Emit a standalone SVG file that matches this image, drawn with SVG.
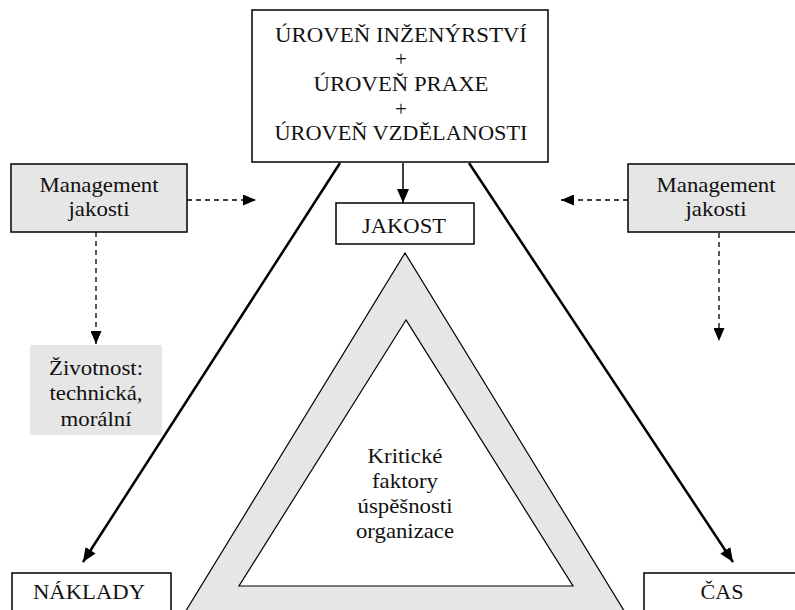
<svg xmlns="http://www.w3.org/2000/svg" width="795" height="610" viewBox="0 0 795 610">
  <defs>
    <marker id="solidHead" markerUnits="userSpaceOnUse" markerWidth="14" markerHeight="12" refX="14" refY="6" orient="auto">
      <path d="M0,0 L14,6 L0,12 Z" fill="#000"/>
    </marker>
    <marker id="dashHead" markerUnits="userSpaceOnUse" markerWidth="13" markerHeight="11" refX="13" refY="5.5" orient="auto">
      <path d="M0,0 L13,5.5 L0,11 Z" fill="#000"/>
    </marker>
    <style>
      .box { fill: #fff; stroke: #000; stroke-width: 1.5; }
      .grey { fill: #e6e6e6; stroke: #000; stroke-width: 1.5; }
      .note { fill: #e6e6e6; stroke: none; }
      text { font-family: 'Liberation Serif', 'Times New Roman', serif; font-size: 21px; fill: #111; text-anchor: middle; }
      .main { fill: none; stroke: #000; stroke-width: 2.5; }
      .thin { fill: none; stroke: #000; stroke-width: 1.5; }
      .dash { fill: none; stroke: #000; stroke-width: 1.3; stroke-dasharray: 5 4; }
      .tri { stroke: #000; stroke-width: 1.2; stroke-linejoin: miter; }
    </style>
  </defs>

  <rect width="795" height="610" fill="#fff"/>

  <!-- nested triangles: success factors -->
  <g id="triangle">
    <polygon class="tri" points="405,253 168,640 642,640" fill="#e6e6e6"/>
    <polygon class="tri" points="406,320 239,586 573,586" fill="#fff"/>
    <text x="405" y="463" textLength="75" lengthAdjust="spacingAndGlyphs">Kritické</text>
    <text x="405" y="488" textLength="66" lengthAdjust="spacingAndGlyphs">faktory</text>
    <text x="405" y="513" textLength="95" lengthAdjust="spacingAndGlyphs">úspěšnosti</text>
    <text x="405" y="538" textLength="98" lengthAdjust="spacingAndGlyphs">organizace</text>
  </g>

  <g id="connectors">
    <line class="thin" x1="403" y1="163" x2="403" y2="203" marker-end="url(#solidHead)"/>
    <line class="main" x1="340" y1="163" x2="83" y2="562" marker-end="url(#solidHead)"/>
    <line class="main" x1="469" y1="163" x2="733" y2="562" marker-end="url(#solidHead)"/>
    <line class="dash" x1="187" y1="200" x2="256" y2="200" marker-end="url(#dashHead)"/>
    <line class="dash" x1="96" y1="232" x2="96" y2="344" marker-end="url(#dashHead)"/>
    <line class="dash" x1="628" y1="200" x2="561" y2="200" marker-end="url(#dashHead)"/>
    <line class="dash" x1="719" y1="233" x2="719" y2="341" marker-end="url(#dashHead)"/>
  </g>

  <g id="levels">
    <rect class="box" x="252" y="10" width="296" height="152"/>
    <text x="401" y="42" textLength="252" lengthAdjust="spacingAndGlyphs">ÚROVEŇ INŽENÝRSTVÍ</text>
    <text x="401" y="66">+</text>
    <text x="401" y="91" textLength="175" lengthAdjust="spacingAndGlyphs">ÚROVEŇ PRAXE</text>
    <text x="401" y="116">+</text>
    <text x="401" y="140" textLength="253" lengthAdjust="spacingAndGlyphs">ÚROVEŇ VZDĚLANOSTI</text>
  </g>

  <g id="quality">
    <rect class="box" x="336" y="203" width="138" height="41"/>
    <text x="404" y="233" textLength="84" lengthAdjust="spacingAndGlyphs">JAKOST</text>
  </g>

  <g id="qm-left">
    <rect class="grey" x="11" y="164" width="176" height="68"/>
    <text x="99" y="192" textLength="119" lengthAdjust="spacingAndGlyphs">Management</text>
    <text x="99" y="216" textLength="61" lengthAdjust="spacingAndGlyphs">jakosti</text>
  </g>

  <g id="qm-right">
    <rect class="grey" x="628" y="164" width="176" height="68"/>
    <text x="716" y="192" textLength="119" lengthAdjust="spacingAndGlyphs">Management</text>
    <text x="716" y="216" textLength="61" lengthAdjust="spacingAndGlyphs">jakosti</text>
  </g>

  <g id="lifetime">
    <rect class="note" x="30" y="345" width="132" height="90"/>
    <text x="96" y="375" textLength="94" lengthAdjust="spacingAndGlyphs">Životnost:</text>
    <text x="96" y="400" textLength="93" lengthAdjust="spacingAndGlyphs">technická,</text>
    <text x="96" y="426" textLength="71" lengthAdjust="spacingAndGlyphs">morální</text>
  </g>

  <g id="costs">
    <rect class="box" x="12" y="573" width="159" height="60"/>
    <text x="89" y="599" textLength="112" lengthAdjust="spacingAndGlyphs">NÁKLADY</text>
  </g>

  <g id="time">
    <rect class="box" x="644" y="573" width="170" height="60"/>
    <text x="722" y="599" textLength="43" lengthAdjust="spacingAndGlyphs">ČAS</text>
  </g>
</svg>
